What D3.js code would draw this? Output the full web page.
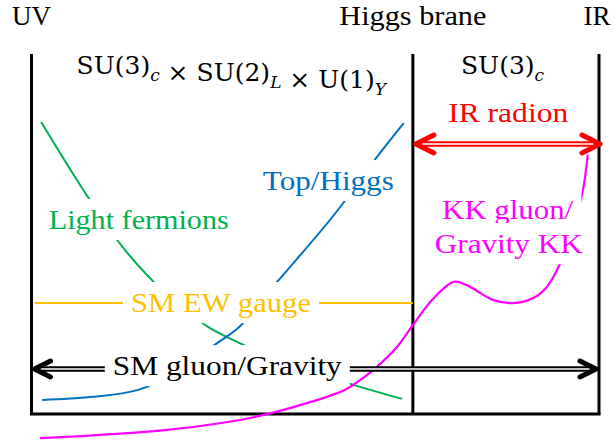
<!DOCTYPE html>
<html>
<head>
<meta charset="utf-8">
<script src="https://cdn.jsdelivr.net/npm/d3@7"></script>
</head>
<body style="margin:0">
<script>
// Position along the extra dimension runs from 0 (UV) to 100 (IR),
// the vertical value is the profile height (0 = bottom of the box).

// branes
var braneNames = ["UV", "Higgs brane", "IR"];
var braneX = [0, 67.2, 100];

// field profiles, [position, height]
var lightFermions = [[1.7, 81.1], [10.3, 59.4], [15.9, 46.7], [21.4, 36.9], [31.1, 24.2],
                     [37.1, 19.4], [56.7, 8.1], [65.3, 4.2]];
var topHiggs = [[1.9, 3.9], [10.3, 4.7], [18.8, 6.7], [32.7, 19.7], [36.4, 23.9],
                [43.4, 36.9], [54.4, 57.5], [60.2, 70.0], [65.6, 80.8]];
var ewGauge = [[0.6, 30.8], [67.2, 30.8]];
var kkGluon = [[1.5, -6.7], [23.9, -4.4], [38.5, -1.1], [49.1, 3.3], [55.2, 6.7], [56.7, 8.1],
               [60.2, 12.2], [64.4, 18.6], [67.2, 24.7], [70.7, 31.9], [74.4, 36.7], [76.7, 35.8],
               [81.3, 31.7], [84.8, 30.8], [88.4, 32.2], [90.8, 35.3], [92.8, 40.6], [95.3, 51.0],
               [97.2, 62.5], [98.0, 72.0]];

// flat modes drawn as double arrows: [from, to, height]
var smGluon = [0, 100, 12.5];
var irRadion = [67.2, 100, 75.0];

// gauge groups above each region
var gaugeGroups = [
  {x: 35.2, parts: [["SU(3)", "c"], [" × SU(2)", "L"], [" × U(1)", "Y"]]},
  {x: 83.0, parts: [["SU(3)", "c"]]}
];

// labels on the curves, [text, position, height, series]
var curveLabels = [
  ["Light fermions", 18.9, 51.4, "fermion"],
  ["Top/Higgs", 52.3, 62.2, "top"],
  ["SM EW gauge", 33.4, 28.3, "ew"],
  ["SM gluon/Gravity", 34.5, 10.8, "gluon"],
  ["IR radion", 84.0, 81.1, "radion"],
  ["KK gluon/", 83.9, 54.2, "kk"],
  ["Gravity KK", 84.1, 44.7, "kk"]
];

var colors = {
  fermion: "#00b050",
  top: "#0070c0",
  ew: "#ffc000",
  gluon: "#000000",
  radion: "#ff0000",
  kk: "#ff00ff"
};

// measured text widths so the serif font spans like the original
var textWidths = {
  "Light fermions": 180, "Top/Higgs": 131, "SM EW gauge": 180, "SM gluon/Gravity": 229,
  "IR radion": 120, "KK gluon/": 131, "Gravity KK": 148, "Higgs brane": 147
};

var width = 615, height = 445;

var svg = d3.select("body").append("svg")
  .attr("width", width)
  .attr("height", height)
  .attr("font-family", "Liberation Serif, serif");

var xScale = d3.scaleLinear().domain([0, 100]).range([31.5, 599]);
var yScale = d3.scaleLinear().domain([0, 100]).range([414, 54]);

// box around the bulk
svg.selectAll(".brane")
  .data(braneX)
  .enter()
  .append("line")
  .attr("class", "brane")
  .attr("x1", function(d) { return xScale(d); })
  .attr("x2", function(d) { return xScale(d); })
  .attr("y1", yScale(0))
  .attr("y2", yScale(100))
  .attr("stroke", "#000")
  .attr("stroke-width", 3);

svg.append("line")
  .attr("x1", xScale(0) - 1.5)
  .attr("x2", xScale(100) + 1.5)
  .attr("y1", yScale(0))
  .attr("y2", yScale(0))
  .attr("stroke", "#000")
  .attr("stroke-width", 3);

// brane names on top
svg.selectAll(".braneName")
  .data(braneNames)
  .enter()
  .append("text")
  .attr("class", "braneName")
  .attr("x", function(d, i) { return xScale(braneX[i]) - (d == "IR" ? 2 : 0); })
  .attr("y", 25)
  .attr("text-anchor", "middle")
  .attr("font-size", 27)
  .attr("fill", "#000")
  .text(function(d) { return d; });

// profiles
var line = d3.line()
  .x(function(d) { return xScale(d[0]); })
  .y(function(d) { return yScale(d[1]); });

function drawProfile(data, color, curve, w) {
  svg.append("path")
    .datum(data)
    .attr("d", line.curve(curve))
    .attr("fill", "none")
    .attr("stroke", color)
    .attr("stroke-width", w);
}

drawProfile(ewGauge, colors.ew, d3.curveLinear, 2);
drawProfile(lightFermions, colors.fermion, d3.curveMonotoneX, 2);
drawProfile(topHiggs, colors.top, d3.curveMonotoneX, 2);
drawProfile(kkGluon, colors.kk, d3.curveCatmullRom, 2.2);

// double arrows
function doubleArrow(mode, color, tipIn, arm, half) {
  var y = yScale(mode[2]);
  var left = xScale(mode[0]) + tipIn[0];
  var right = xScale(mode[1]) + tipIn[1];
  svg.append("line")
    .attr("x1", left + 6).attr("x2", right - 6)
    .attr("y1", y).attr("y2", y)
    .attr("stroke", color)
    .attr("stroke-width", 5.5);
  svg.append("line")
    .attr("x1", left + 6).attr("x2", right - 6)
    .attr("y1", y).attr("y2", y)
    .attr("stroke", "#fff")
    .attr("stroke-width", 1.6);
  [[left, 1], [right, -1]].forEach(function(h) {
    svg.append("path")
      .attr("d", "M" + (h[0] + h[1] * arm) + "," + (y - half) +
                 "L" + h[0] + "," + y +
                 "L" + (h[0] + h[1] * arm) + "," + (y + half))
      .attr("fill", "none")
      .attr("stroke", color)
      .attr("stroke-width", 5)
      .attr("stroke-linecap", "round")
      .attr("stroke-linejoin", "round");
  });
}

doubleArrow(smGluon, colors.gluon, [3, -3], 16, 8);
doubleArrow(irRadion, colors.radion, [3, 1], 18, 9);

// gauge groups
gaugeGroups.forEach(function(g) {
  var t = svg.append("text")
    .attr("x", xScale(g.x))
    .attr("y", yScale(94.4))
    .attr("text-anchor", "middle")
    .attr("font-family", "DejaVu Serif, serif")
    .attr("font-size", 25)
    .attr("fill", "#000");
  g.parts.forEach(function(p) {
    t.append("tspan").text(p[0]);
    t.append("tspan")
      .attr("dy", 7)
      .attr("font-size", 17)
      .attr("font-style", "italic")
      .text(p[1]);
    t.append("tspan").attr("dy", -7).text("");
  });
});

// curve labels with white boxes behind them
var labelGroups = svg.selectAll(".label")
  .data(curveLabels)
  .enter()
  .append("g")
  .attr("class", "label");

labelGroups.append("text")
  .attr("x", function(d) { return xScale(d[1]); })
  .attr("y", function(d) { return yScale(d[2]); })
  .attr("text-anchor", "middle")
  .attr("font-size", 28)
  .attr("textLength", function(d) { return textWidths[d[0]]; })
  .attr("lengthAdjust", "spacingAndGlyphs")
  .attr("fill", function(d) { return colors[d[3]]; })
  .text(function(d) { return d[0]; });

labelGroups.each(function(d) {
  if (d[3] == "radion") { return; }
  var box = d3.select(this).select("text").node().getBBox();
  d3.select(this).insert("rect", "text")
    .attr("x", box.x - 8)
    .attr("y", box.y - 5)
    .attr("width", box.width + 16)
    .attr("height", box.height + 10)
    .attr("fill", "#fff");
});

svg.selectAll(".braneName")
  .filter(function(d) { return d == "Higgs brane"; })
  .attr("textLength", textWidths["Higgs brane"])
  .attr("lengthAdjust", "spacingAndGlyphs");
</script>
</body>
</html>
